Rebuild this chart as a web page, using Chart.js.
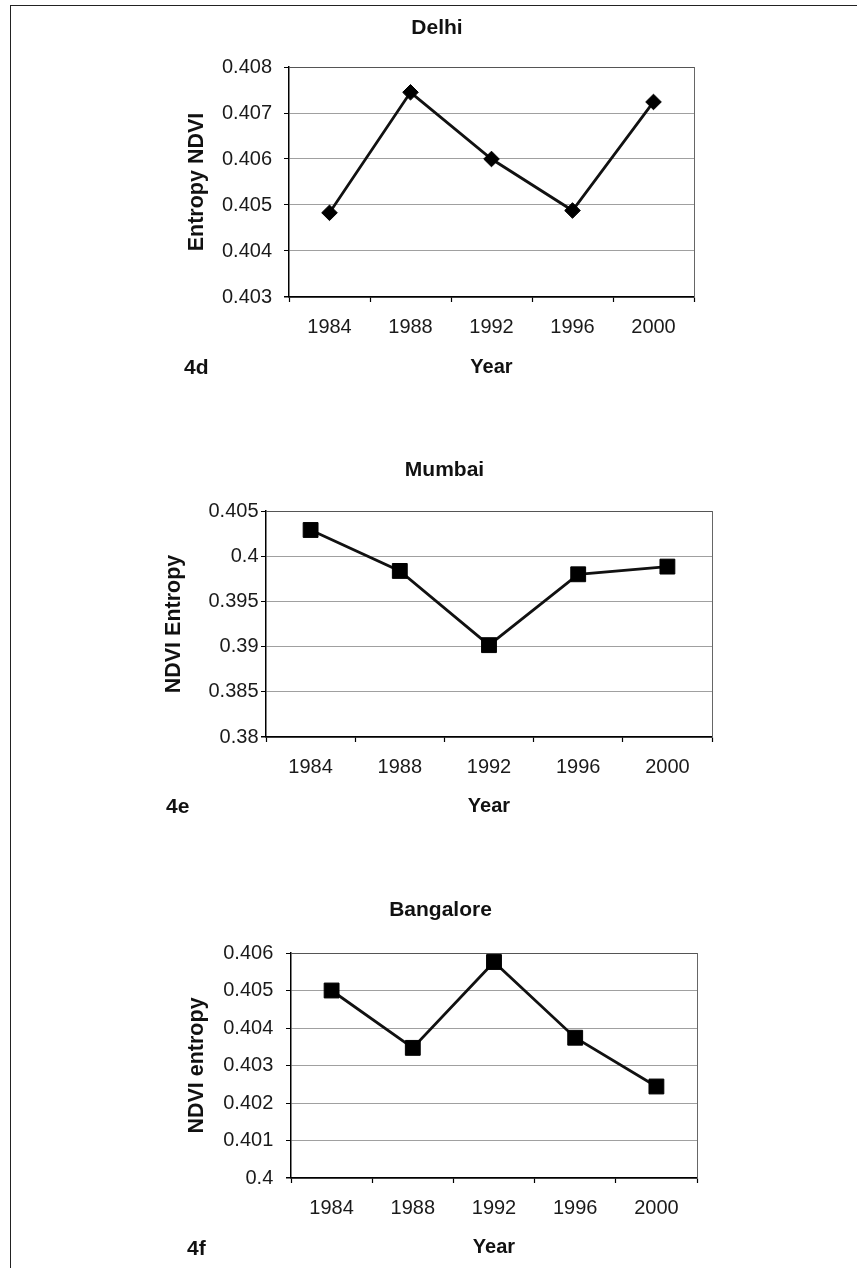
<!DOCTYPE html>
<html>
<head>
<meta charset="utf-8">
<title>NDVI entropy 1984-2000</title>
<script src="https://cdn.jsdelivr.net/npm/chart.js@4.4.0/dist/chart.umd.min.js"></script>
<style>
  html, body { margin: 0; padding: 0; background: #fff; overflow: hidden; }
  body { width: 857px; height: 1268px; position: relative; }
  .frame { position: absolute; left: 10px; top: 5px; right: -5px; bottom: -5px;
           border-top: 1.5px solid #222; border-left: 1.5px solid #222; }
  canvas { position: absolute; left: 0; }
  .tag { position: absolute; font: bold 21px "Liberation Sans", Arial, sans-serif;
         line-height: 24px; color: #111; }
</style>
</head>
<body>
<div class="frame"></div>

<canvas id="delhiChart" width="857" height="390" style="top:7px"></canvas>
<div class="tag" style="left:184px;top:355px">4d</div>

<canvas id="mumbaiChart" width="857" height="386" style="top:451px"></canvas>
<div class="tag" style="left:166px;top:794px">4e</div>

<canvas id="bangaloreChart" width="857" height="385" style="top:893px"></canvas>
<div class="tag" style="left:187px;top:1236px">4f</div>

<script>
// ------------------   DATA   ---------------------
const years = ['1984', '1988', '1992', '1996', '2000'];

const delhiEntropy = [0.40483, 0.40745, 0.406, 0.40488, 0.40724];
const mumbaiEntropy = [0.4029, 0.39837, 0.39016, 0.398, 0.39885];
const bangaloreEntropy = [0.405, 0.40347, 0.40576, 0.40374, 0.40244];

const delhiTicks = [0.403, 0.404, 0.405, 0.406, 0.407, 0.408];
const delhiTickLabels = ['0.403', '0.404', '0.405', '0.406', '0.407', '0.408'];
const mumbaiTicks = [0.38, 0.385, 0.39, 0.395, 0.4, 0.405];
const mumbaiTickLabels = ['0.38', '0.385', '0.39', '0.395', '0.4', '0.405'];
const bangaloreTicks = [0.4, 0.401, 0.402, 0.403, 0.404, 0.405, 0.406];
const bangaloreTickLabels = ['0.4', '0.401', '0.402', '0.403', '0.404', '0.405', '0.406'];

// ------------------   LOOK   ---------------------
const FONT = '"Liberation Sans", Arial, Helvetica, sans-serif';
Chart.defaults.font.family = FONT;
Chart.defaults.color = '#1a1a1a';

// ------------   FUNCTIONS   ----------------------
function renderCityChart(canvasId, opts) {
  const ctx = document.getElementById(canvasId).getContext('2d');
  const lastTick = opts.ticks.length - 1;

  return new Chart(ctx, {
    type: 'line',
    data: {
      labels: years,
      datasets: [
        {
          data: opts.values,
          borderColor: '#111',
          borderWidth: 2.8,
          tension: 0,
          pointStyle: opts.marker,
          pointRadius: opts.markerRadius,
          pointBackgroundColor: '#000',
          pointBorderColor: '#000',
          pointBorderWidth: 1,
          clip: false,
        },
      ],
    },
    options: {
      responsive: false,
      animation: false,
      devicePixelRatio: 1,
      layout: { padding: { left: opts.padLeft, right: opts.padRight, top: 0, bottom: 0 } },
      plugins: {
        legend: { display: false },
        tooltip: { enabled: false },
        title: {
          display: true,
          text: opts.title,
          color: '#111',
          font: { size: 21, weight: 'bold' },
          padding: { top: opts.titleTop, bottom: opts.titleBottom },
        },
      },
      scales: {
        x: {
          type: 'category',
          offset: true,
          afterFit: (s) => { s.height = 100; },
          grid: {
            offset: true,
            drawOnChartArea: false,
            drawTicks: true,
            tickLength: 5,
            tickColor: '#000',
            tickWidth: 1.2,
          },
          border: { color: '#000', width: 1.5 },
          ticks: { font: { size: 20 }, padding: opts.xTickPad, maxRotation: 0, color: '#1a1a1a' },
          title: {
            display: true,
            text: 'Year',
            color: '#111',
            font: { size: 20, weight: 'bold' },
            padding: { top: 0, bottom: opts.yearPad },
          },
        },
        y: {
          position: 'left',
          min: opts.ticks[0],
          max: opts.ticks[lastTick],
          afterBuildTicks: (s) => { s.ticks = opts.ticks.map((value) => ({ value })); },
          afterFit: (s) => { s.width = opts.yWidth; },
          grid: {
            color: (c) => (c.index === 0 ? '#000' : c.index === lastTick ? '#555' : '#a0a0a0'),
            lineWidth: (c) => (c.index === 0 ? 1.5 : 1),
            drawTicks: true,
            tickLength: 5,
            tickColor: '#000',
          },
          border: { color: '#000', width: 1.5 },
          ticks: {
            font: { size: 20 },
            padding: opts.yTickPad,
            color: '#1a1a1a',
            callback: (value, i) => opts.tickLabels[i],
          },
          title: {
            display: true,
            text: opts.yTitle,
            color: '#111',
            font: { size: 21.5, weight: 'bold' },
            padding: { top: opts.yTitlePad, bottom: 0 },
          },
        },
        // right edge of the plot frame
        frame: {
          type: 'linear',
          position: 'right',
          afterFit: (s) => { s.width = opts.rightGap; },
          ticks: { display: false },
          grid: { drawOnChartArea: false, drawTicks: false },
          border: { display: true, color: '#666', width: 1 },
        },
      },
    },
  });
}

// ------------ function calls ---------------------
renderCityChart('delhiChart', {
  title: 'Delhi',
  yTitle: 'Entropy NDVI',
  values: delhiEntropy,
  ticks: delhiTicks,
  tickLabels: delhiTickLabels,
  marker: 'rectRot',
  markerRadius: 7.8,
  padLeft: 180,
  padRight: 163,
  rightGap: 0,
  yWidth: 109,
  yTitlePad: 4,
  yTickPad: 12,
  xTickPad: 13,
  yearPad: 18,
  titleTop: 9,
  titleBottom: 25.8,
});

renderCityChart('mumbaiChart', {
  title: 'Mumbai',
  yTitle: 'NDVI Entropy',
  values: mumbaiEntropy,
  ticks: mumbaiTicks,
  tickLabels: mumbaiTickLabels,
  marker: 'rect',
  markerRadius: 10.5,
  padLeft: 159,
  padRight: 127,
  rightGap: 18,
  yWidth: 107,
  yTitlePad: 2,
  yTickPad: 2.5,
  xTickPad: 13,
  yearPad: 19,
  titleTop: 6.4,
  titleBottom: 28.4,
});

renderCityChart('bangaloreChart', {
  title: 'Bangalore',
  yTitle: 'NDVI entropy',
  values: bangaloreEntropy,
  ticks: bangaloreTicks,
  tickLabels: bangaloreTickLabels,
  marker: 'rect',
  markerRadius: 10.5,
  padLeft: 182,
  padRight: 158,
  rightGap: 2,
  yWidth: 109,
  yTitlePad: 2,
  yTickPad: 12.7,
  xTickPad: 13.5,
  yearPad: 19,
  titleTop: 5.1,
  titleBottom: 29.7,
});
</script>
</body>
</html>
